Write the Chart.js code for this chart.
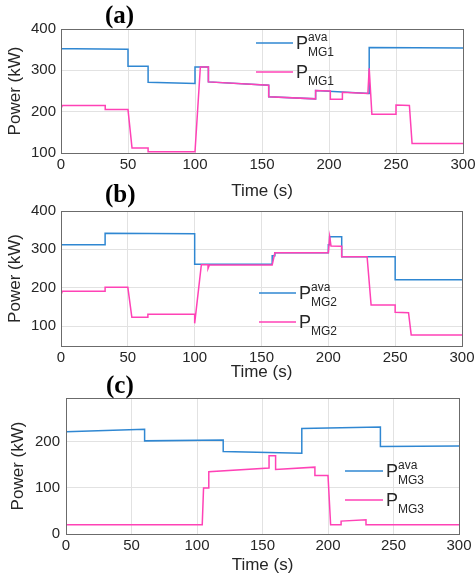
<!DOCTYPE html>
<html>
<head>
<meta charset="utf-8">
<script src="https://cdn.jsdelivr.net/npm/chart.js@4/dist/chart.umd.min.js"></script>
<style>
    html, body { margin: 0; padding: 0; background: #fff; }
    #wrap { position: relative; width: 476px; height: 583px; overflow: hidden; }
    canvas { position: absolute; left: 0; }
    .tag { position: absolute; font: bold 25px "Liberation Serif", "DejaVu Serif", serif; color: #000; line-height: 1; }
</style>
</head>
<body>
<div id="wrap">
    <canvas id="mg1" width="476" height="205" style="top:0"></canvas>
    <canvas id="mg2" width="476" height="190" style="top:195px"></canvas>
    <canvas id="mg3" width="476" height="200" style="top:383px"></canvas>
    <div class="tag" style="left:105px; top:2px">(a)</div>
    <div class="tag" style="left:105px; top:181px">(b)</div>
    <div class="tag" style="left:106px; top:372px">(c)</div>
</div>
<script>
// MG1: available power and dispatched power (kW) over time (s)
const tAvaMG1 = [0, 10, 50, 50, 65, 65, 100, 100, 110, 110, 155, 155, 190, 190, 230, 230, 300];
const pAvaMG1 = [352, 352, 351, 310, 310, 271, 268, 308, 308, 272, 264, 236, 231, 251, 244, 355, 354];
const tMG1 = [0, 1, 33, 33, 50, 53, 65, 65, 100, 104, 110, 110, 155, 155, 190, 190, 201, 201, 210, 210, 229, 230, 232, 250, 250, 260, 262, 300];
const pMG1 = [208, 215, 215, 205, 205, 112, 112, 103, 103, 308, 308, 272, 264, 236, 231, 251, 250, 230, 230, 247, 244, 305, 194, 194, 216, 215, 123, 123];

// MG2
const tAvaMG2 = [0, 33, 33, 100, 100, 158, 158, 160, 160, 200, 200, 201, 201, 210, 210, 250, 250, 300];
const pAvaMG2 = [312, 312, 342, 341, 261, 261, 283, 283, 291, 291, 312, 312, 333, 333, 281, 281, 221, 221];
const tMG2 = [0, 1, 33, 33, 50, 53, 65, 65, 100, 100, 105, 110, 110, 111, 158, 160, 200, 201, 202, 210, 210, 229, 232, 250, 250, 260, 262, 300];
const pMG2 = [182, 191, 191, 201, 201, 123, 123, 131, 131, 107, 260, 260, 250, 259, 259, 291, 291, 333, 309, 308, 281, 281, 155, 155, 136, 135, 77, 77];

// MG3
const tAvaMG3 = [0, 60, 60, 120, 120, 180, 180, 240, 240, 300];
const pAvaMG3 = [222, 227, 202, 204, 179, 175, 229, 232, 190, 191];
const tMG3 = [0, 104, 105, 109, 109, 155, 155, 160, 160, 190, 190, 200, 202, 210, 210, 229, 229, 300];
const pMG3 = [20, 20, 100, 100, 135, 143, 170, 170, 140, 145, 127, 127, 20, 20, 28, 31, 20, 20];

// axis ticks
const timeTicks = [0, 50, 100, 150, 200, 250, 300];
const powerTicksMG1 = [100, 200, 300, 400];
const powerTicksMG2 = [100, 200, 300, 400];
const powerTicksMG3 = [0, 100, 200];

const BLUE = '#2f87d2';
const PINK = '#ff42b6';
const TXT = '#262626';
const FONT = '"Liberation Sans", Arial, sans-serif';

const toXY = (ts, ps) => ts.map((t, i) => ({ x: t, y: ps[i] }));

// matlab-style box round the plot area
const boxPlugin = {
    id: 'plotBox',
    afterDraw(chart) {
        const { ctx, chartArea: a } = chart;
        ctx.save();
        ctx.strokeStyle = '#6b6b6b';
        ctx.lineWidth = 1;
        ctx.strokeRect(Math.round(a.left) + 0.5, Math.round(a.top) + 0.5,
            Math.round(a.right - a.left), Math.round(a.bottom - a.top));
        ctx.restore();
    }
};

// legend with super/subscripted labels, no frame
const legendPlugin = {
    id: 'mgLegend',
    afterDraw(chart, args, opts) {
        const ctx = chart.ctx;
        ctx.save();
        opts.items.forEach((it, i) => {
            const y = opts.y + i * opts.gap;
            ctx.strokeStyle = it.color;
            ctx.lineWidth = 1.5;
            ctx.beginPath();
            ctx.moveTo(opts.x, y);
            ctx.lineTo(opts.x + opts.len, y);
            ctx.stroke();

            const tx = opts.x + opts.len + 3;
            ctx.fillStyle = TXT;
            ctx.textBaseline = 'alphabetic';
            ctx.textAlign = 'left';
            ctx.font = '18px ' + FONT;
            ctx.fillText('P', tx, y + 6);
            const pw = ctx.measureText('P').width;
            ctx.font = '12px ' + FONT;
            if (it.sup) ctx.fillText(it.sup, tx + pw, y - 2);
            ctx.fillText(it.sub, tx + pw, y + 13);
        });
        ctx.restore();
    }
};

function makePanel(canvasId, cfg) {
    const canvas = document.getElementById(canvasId);
    const ctx = canvas.getContext('2d');

    return new Chart(ctx, {
        type: 'line',
        data: {
            datasets: [
                {
                    label: 'ava',
                    data: toXY(cfg.tAva, cfg.pAva),
                    borderColor: BLUE,
                    borderWidth: 1.5,
                    pointRadius: 0,
                    fill: false,
                    tension: 0,
                    order: 1
                },
                {
                    label: 'P',
                    data: toXY(cfg.t, cfg.p),
                    borderColor: PINK,
                    borderWidth: 1.5,
                    pointRadius: 0,
                    fill: false,
                    tension: 0,
                    order: 0
                }
            ]
        },
        options: {
            responsive: false,
            animation: false,
            events: [],
            layout: { padding: { top: cfg.padTop, right: cfg.padRight, left: 0, bottom: 0 } },
            plugins: {
                legend: { display: false },
                tooltip: { enabled: false },
                mgLegend: cfg.legend
            },
            scales: {
                x: {
                    type: 'linear',
                    min: 0,
                    max: 300,
                    afterBuildTicks: s => { s.ticks = timeTicks.map(v => ({ value: v })); },
                    afterFit: s => {
                        s.height = cfg.xHeight;
                        // end labels may hang past the plot edge
                        s.paddingLeft = 0;
                        s.paddingRight = 0;
                    },
                    grid: { color: '#e2e2e2', drawTicks: false },
                    border: { display: false },
                    ticks: { color: TXT, font: { family: FONT, size: 15 }, padding: 3, maxRotation: 0 },
                    title: {
                        display: true,
                        text: 'Time (s)',
                        color: TXT,
                        font: { family: FONT, size: 17 },
                        padding: { top: 0, bottom: cfg.xTitlePad }
                    }
                },
                y: {
                    min: cfg.yMin,
                    max: cfg.yMax,
                    afterBuildTicks: s => { s.ticks = cfg.yTicks.map(v => ({ value: v })); },
                    afterFit: s => { s.width = cfg.yWidth; },
                    grid: { color: '#e2e2e2', drawTicks: false },
                    border: { display: false },
                    ticks: {
                        color: TXT,
                        font: { family: FONT, size: 15 },
                        padding: cfg.yTickPad
                    },
                    title: {
                        display: true,
                        text: 'Power (kW)',
                        color: TXT,
                        font: { family: FONT, size: 17 },
                        padding: { top: cfg.yTitlePad, bottom: 0 }
                    }
                }
            }
        },
        plugins: [boxPlugin, legendPlugin]
    });
}

makePanel('mg1', {
    tAva: tAvaMG1, pAva: pAvaMG1, t: tMG1, p: pMG1,
    yMin: 100, yMax: 400, yTicks: powerTicksMG1,
    padTop: 29, padRight: 13, yWidth: 61, xHeight: 52,
    xTitlePad: 3, yTickPad: 5, yTitlePad: 5,
    legend: { x: 256, y: 43, gap: 29, len: 37,
        items: [{ color: BLUE, sup: 'ava', sub: 'MG1' }, { color: PINK, sub: 'MG1' }] }
});

makePanel('mg2', {
    tAva: tAvaMG2, pAva: pAvaMG2, t: tMG2, p: pMG2,
    yMin: 48, yMax: 400, yTicks: powerTicksMG2,
    padTop: 16, padRight: 14, yWidth: 61, xHeight: 39,
    xTitlePad: 2, yTickPad: 5, yTitlePad: 5,
    legend: { x: 259, y: 98, gap: 29, len: 37,
        items: [{ color: BLUE, sup: 'ava', sub: 'MG2' }, { color: PINK, sub: 'MG2' }] }
});

makePanel('mg3', {
    tAva: tAvaMG3, pAva: pAvaMG3, t: tMG3, p: pMG3,
    yMin: 0, yMax: 295, yTicks: powerTicksMG3,
    padTop: 15, padRight: 17, yWidth: 66, xHeight: 49,
    xTitlePad: 7, yTickPad: 6, yTitlePad: 8,
    legend: { x: 345, y: 88, gap: 29, len: 38,
        items: [{ color: BLUE, sup: 'ava', sub: 'MG3' }, { color: PINK, sub: 'MG3' }] }
});
</script>
</body>
</html>
